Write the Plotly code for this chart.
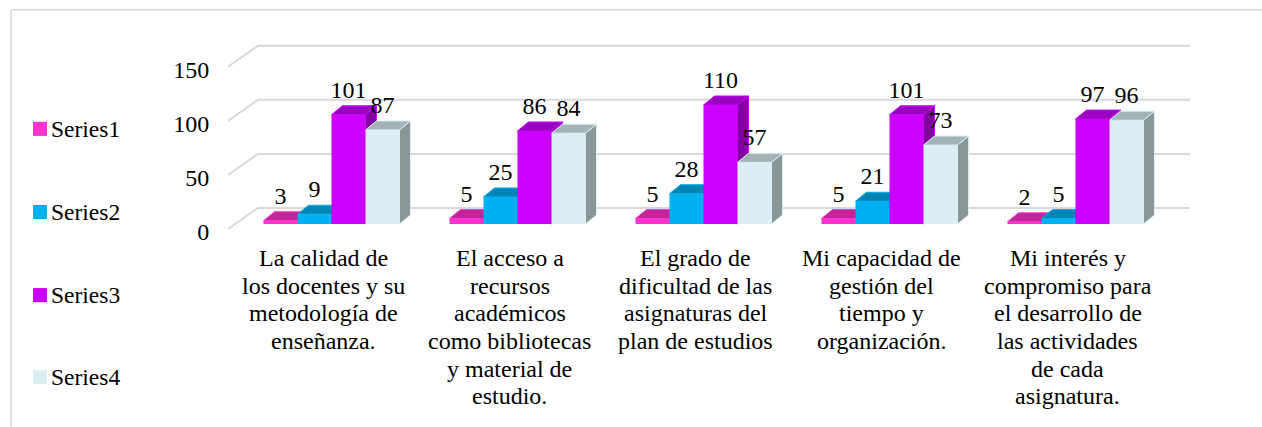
import plotly.graph_objects as go

categories = [
    "La calidad de<br>los docentes y su<br>metodología de<br>enseñanza.",
    "El acceso a<br>recursos<br>académicos<br>como bibliotecas<br>y material de<br>estudio.",
    "El grado de<br>dificultad de las<br>asignaturas del<br>plan de estudios",
    "Mi capacidad de<br>gestión del<br>tiempo y<br>organización.",
    "Mi interés y<br>compromiso para<br>el desarrollo de<br>las actividades<br>de cada<br>asignatura.",
]
series_names = ["Series1", "Series2", "Series3", "Series4"]
series1 = [3, 5, 5, 5, 2]
series2 = [9, 25, 28, 21, 5]
series3 = [101, 86, 110, 101, 97]
series4 = [87, 84, 57, 73, 96]
y_ticks = [0, 50, 100, 150]

front_colors = ["#FF33CC", "#00B0F0", "#CC00FF", "#DAEEF3"]
top_colors = ["#C0269A", "#0084B4", "#9900BF", "#A4B3B6"]
side_colors = ["#A02080", "#006E96", "#8000A0", "#8A9799"]
GRID = "#D9D9D9"
FONT = "Liberation Serif"
FONT_SIZE = 24

# pixel frame of the plot area
W, H = 1262, 427
LEFT, RIGHT, BOTTOM = 228, 1190, 229
PX_PER_UNIT = 1.08
PX_PER_GROUP = 186
FIRST_GROUP = 331.5
Y_MAX = 172
TOP = BOTTOM - Y_MAX * PX_PER_UNIT

x_lo = (LEFT - FIRST_GROUP) / PX_PER_GROUP
x_hi = (RIGHT - FIRST_GROUP) / PX_PER_GROUP
bar_w = 34 / PX_PER_GROUP
base = 5 / PX_PER_UNIT
depth_x = 11 / PX_PER_GROUP
depth_y = 9 / PX_PER_UNIT
wall_x = 30 / PX_PER_GROUP
wall_y = 21 / PX_PER_UNIT
label_raise = 2 / PX_PER_UNIT
label_shift = -8 / PX_PER_GROUP


def px_x(px):
    return (px - LEFT) / (RIGHT - LEFT)


def px_y(py):
    return (BOTTOM - py) / (BOTTOM - TOP)


fig = go.Figure()

# side wall and back wall grid
grid_x, grid_y = [], []
for t in y_ticks:
    grid_x += [x_lo, x_lo + wall_x, x_hi, None]
    grid_y += [t, t + wall_y, t + wall_y, None]
fig.add_trace(
    go.Scatter(x=grid_x, y=grid_y, mode="lines", line=dict(color=GRID, width=2), hoverinfo="skip", showlegend=False)
)

all_series = [series1, series2, series3, series4]
positions = range(len(categories))

# top and side faces sit under the overlay that holds the front faces
for j, values in enumerate(all_series):
    top_x, top_y, side_x, side_y = [], [], [], []
    for i, v in zip(positions, values):
        x0 = i + (j - 2) * bar_w
        x1 = x0 + bar_w
        y1 = base + v
        top_x += [x0, x1, x1 + depth_x, x0 + depth_x, x0, None]
        top_y += [y1, y1, y1 + depth_y, y1 + depth_y, y1, None]
        side_x += [x1, x1 + depth_x, x1 + depth_x, x1, x1, None]
        side_y += [base, base + depth_y, y1 + depth_y, y1, base, None]
    for xs, ys, color in [(side_x, side_y, side_colors[j]), (top_x, top_y, top_colors[j])]:
        fig.add_trace(
            go.Scatter(
                x=xs,
                y=ys,
                mode="lines",
                fill="toself",
                fillcolor=color,
                line=dict(color=front_colors[j], width=1),
                hoverinfo="skip",
                showlegend=False,
            )
        )

for j, values in enumerate(all_series):
    fig.add_trace(
        go.Bar(
            name=series_names[j],
            x=list(positions),
            y=values,
            base=base,
            marker_color=front_colors[j],
            marker_line_width=0,
            xaxis="x2",
            yaxis="y2",
            showlegend=False,
        )
    )

for j, values in enumerate(all_series):
    fig.add_trace(
        go.Scatter(
            x=[i + (j - 1.5) * bar_w for i in positions],
            y=[base + v + depth_y + label_raise for v in values],
            mode="text",
            text=[str(v) for v in values],
            textposition="top center",
            textfont=dict(family=FONT, size=FONT_SIZE, color="#000000"),
            xaxis="x2",
            yaxis="y2",
            hoverinfo="skip",
            showlegend=False,
            cliponaxis=False,
        )
    )

# frame and legend, the legend keys sit closer to their text than plotly's legend allows
shapes = [
    dict(type="line", xref="paper", yref="paper", x0=px_x(11), x1=px_x(11), y0=px_y(10), y1=px_y(H),
         line=dict(color=GRID, width=1.5)),
    dict(type="line", xref="paper", yref="paper", x0=px_x(11), x1=px_x(W), y0=px_y(10), y1=px_y(10),
         line=dict(color=GRID, width=1.5)),
]
annotations = []
for j, (name, cy) in enumerate(zip(series_names, [129, 212, 295, 377])):
    shapes.append(
        dict(type="rect", xref="paper", yref="paper", x0=px_x(33), x1=px_x(47), y0=px_y(cy - 7), y1=px_y(cy + 7),
             fillcolor=front_colors[j], line_width=0)
    )
    annotations.append(
        dict(text=name, xref="paper", yref="paper", x=px_x(49), y=px_y(cy), xanchor="left", yanchor="middle",
             showarrow=False, font=dict(family=FONT, size=23.5, color="#000000"))
    )

# category labels line by line, their leading is tighter than plotly's fixed multi-line spacing
for i, label in zip(positions, categories):
    for k, line in enumerate(label.split("<br>")):
        annotations.append(
            dict(text=line, xref="x", yref="paper", x=i + label_shift, y=px_y(258 + 27.6 * k),
                 xanchor="center", yanchor="middle", showarrow=False,
                 font=dict(family=FONT, size=FONT_SIZE, color="#000000"))
        )

fig.update_layout(
    width=W,
    height=H,
    margin=dict(l=LEFT, r=W - RIGHT, t=TOP, b=H - BOTTOM),
    paper_bgcolor="#FFFFFF",
    plot_bgcolor="rgba(0,0,0,0)",
    barmode="group",
    bargap=1 - 4 * bar_w,
    bargroupgap=0,
    showlegend=False,
    shapes=shapes,
    annotations=annotations,
    font=dict(family=FONT, color="#000000"),
    xaxis=dict(
        range=[x_lo, x_hi],
        tickmode="array",
        tickvals=list(positions),
        showticklabels=False,
        ticks="",
        showgrid=False,
        zeroline=False,
        showline=False,
        automargin=False,
    ),
    yaxis=dict(
        range=[0, Y_MAX],
        tickmode="array",
        tickvals=y_ticks,
        tickfont=dict(family=FONT, size=FONT_SIZE),
        ticks="outside",
        ticklen=13,
        tickcolor="rgba(0,0,0,0)",
        ticklabelshift=3,
        showgrid=False,
        zeroline=False,
        showline=False,
        automargin=False,
    ),
    xaxis2=dict(range=[x_lo, x_hi], overlaying="x", visible=False),
    yaxis2=dict(range=[0, Y_MAX], overlaying="y", visible=False),
)

fig.write_html("out.html", config={"displayModeBar": False}, post_script="document.body.style.margin = '0';")
